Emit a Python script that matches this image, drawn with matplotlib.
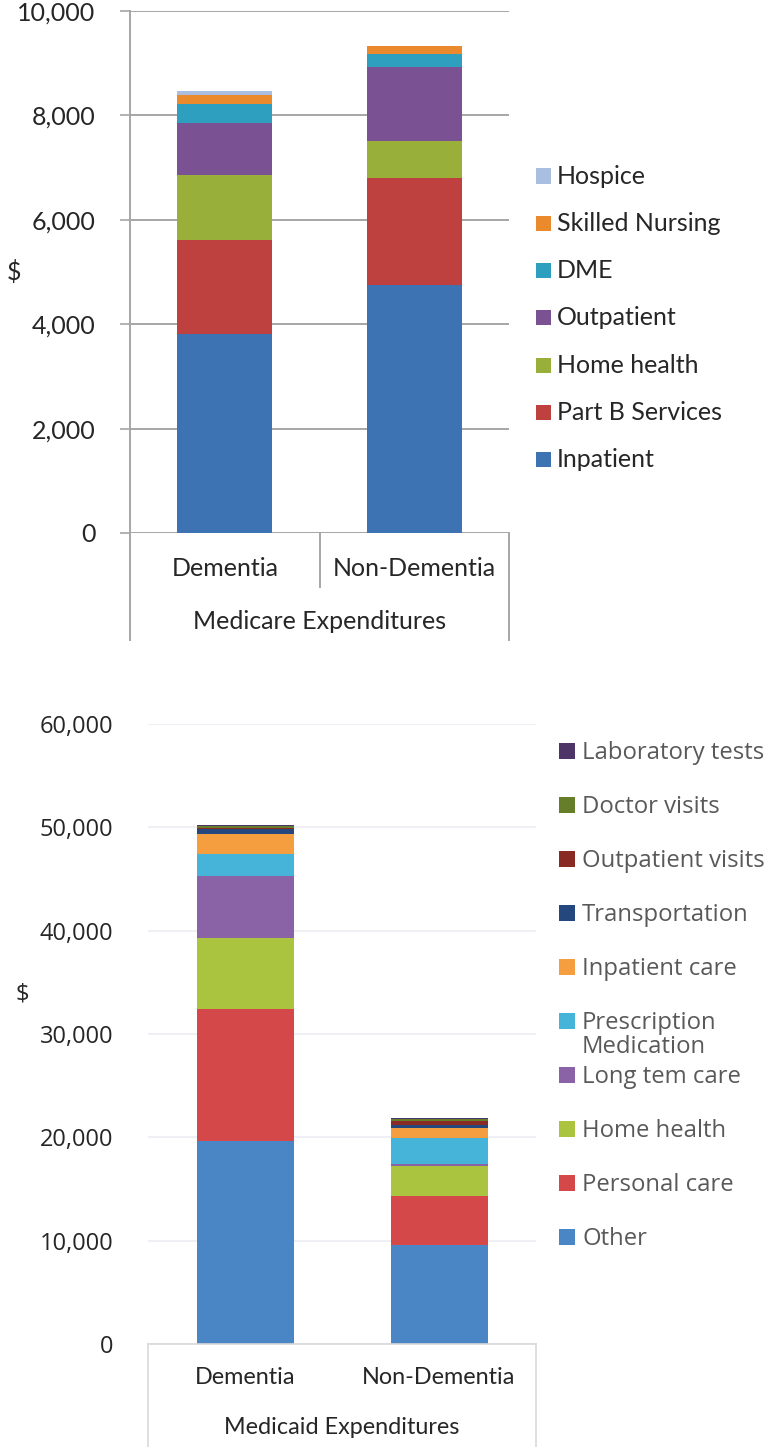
import matplotlib
matplotlib.use('Agg')
import matplotlib.pyplot as plt
from matplotlib.patches import Rectangle
from matplotlib.lines import Line2D
from matplotlib.transforms import blended_transform_factory
import numpy as np

# ---------------- data ----------------
groups = ['Dementia', 'Non-Dementia']

medicare_categories = ['Inpatient', 'Part B Services', 'Home health', 'Outpatient',
                       'DME', 'Skilled Nursing', 'Hospice']
medicare_dementia = [3810, 1795, 1245, 1005, 365, 172, 83]
medicare_nondementia = [4745, 2065, 700, 1425, 244, 159, 0]
medicare_title = 'Medicare Expenditures'
medicare_ticks = [0, 2000, 4000, 6000, 8000, 10000]

medicaid_categories = ['Other', 'Personal care', 'Home health', 'Long tem care',
                       'Prescription\nMedication', 'Inpatient care', 'Transportation',
                       'Outpatient visits', 'Doctor visits', 'Laboratory tests']
medicaid_dementia = [19690, 12710, 6845, 6030, 2130, 1965, 430, 170, 170, 100]
medicaid_nondementia = [9620, 4745, 2865, 165, 2585, 930, 320, 390, 190, 60]
medicaid_title = 'Medicaid Expenditures'
medicaid_ticks = [0, 10000, 20000, 30000, 40000, 50000, 60000]

# ---------------- styles ----------------
medicare_colors = ['#3D72B3', '#BE4140', '#98B03A', '#7A5294', '#2F9FBF', '#EB8A2C', '#A9BEE0']
medicaid_colors = ['#4A86C5', '#D5484A', '#ABC43F', '#8963A6', '#45B4D8', '#F59E40',
                   '#24477D', '#8A2A25', '#667E2A', '#4D3568']

FONT = 'Lato'
FONT2 = 'Open Sans'
plt.rcParams['font.family'] = [FONT, 'DejaVu Sans']

W, H = 772, 1447
fig = plt.figure(figsize=(W / 100, H / 100), dpi=100)


def fx(px):
    return px / W


def fy(py):
    return 1 - py / H


def fig_legend(labels, colors, x0, y_centers, size, text_x, fontsize, color,
               text_offsets=None, family=None, text_dy=0):
    for i, (lab, col, yc) in enumerate(zip(labels, colors, y_centers)):
        r = Rectangle((fx(x0), fy(yc + size / 2)), size / W, size / H,
                      transform=fig.transFigure, facecolor=col, edgecolor='none')
        fig.add_artist(r)
        off = 0 if text_offsets is None else text_offsets[i]
        kw = {} if family is None else {'family': family}
        fig.text(fx(text_x), fy(yc + off + text_dy), lab, ha='left', va='center',
                 fontsize=fontsize, color=color, linespacing=1.05, **kw)


TOPFS = 18
# ================= top chart (Medicare) =================
top_left, top_right, top_y0, top_y1 = 130, 509, 533, 11
ax1 = fig.add_axes([fx(top_left), fy(top_y0), fx(top_right - top_left), (top_y0 - top_y1) / H])
x = np.arange(len(groups))
bottoms = np.zeros(len(groups))
for cat, col, d, n in zip(medicare_categories, medicare_colors, medicare_dementia, medicare_nondementia):
    vals = np.array([d, n], dtype=float)
    ax1.bar(x, vals, width=0.5, bottom=bottoms, color=col, label=cat, zorder=3)
    bottoms += vals
ax1.set_xlim(-0.5, 1.5)
ax1.set_ylim(0, 10000)
ax1.set_yticks(medicare_ticks)
ax1.set_yticklabels([f'{t:,}' for t in medicare_ticks])
ax1.set_xticks([])
for s in ['top', 'right', 'bottom', 'left']:
    ax1.spines[s].set_visible(False)
gcol = '#A6A6A6'
ax1.yaxis.grid(True, color=gcol, linewidth=1.4, zorder=0)
ax1.set_axisbelow(True)
ax1.tick_params(axis='y', length=7, width=1.2, color=gcol, pad=18, labelsize=TOPFS, labelcolor='#262626')
# axis & category box lines
ext = (top_y0 - 640) / (top_y0 - top_y1)
mid = (top_y0 - 587) / (top_y0 - top_y1)
ax1.add_line(Line2D([0, 0], [1, ext], transform=ax1.transAxes, color=gcol, lw=1.4, clip_on=False))
ax1.add_line(Line2D([1, 1], [0, ext], transform=ax1.transAxes, color=gcol, lw=1.4, clip_on=False))
ax1.add_line(Line2D([0.5, 0.5], [0, mid], transform=ax1.transAxes, color=gcol, lw=1.4, clip_on=False))
tr1 = blended_transform_factory(ax1.transData, ax1.transAxes)
for i, g in enumerate(groups):
    ax1.text(i, (top_y0 - 569) / (top_y0 - top_y1), g, transform=tr1, ha='center', va='center',
             fontsize=TOPFS, color='#262626')
ax1.text(0.5, (top_y0 - 622) / (top_y0 - top_y1), medicare_title, transform=ax1.transAxes,
         ha='center', va='center', fontsize=TOPFS, color='#262626')
fig.text(fx(14), fy(272), '$', ha='center', va='center', fontsize=TOPFS, color='#262626')

fig_legend(medicare_categories[::-1], medicare_colors[::-1],
           536, [176 + 47.33 * i for i in range(7)], 15, 557, TOPFS, '#262626')

# ================= bottom chart (Medicaid) =================
b_left, b_right, b_y0, b_y1 = 148, 536, 1344, 724
ax2 = fig.add_axes([fx(b_left), fy(b_y0), fx(b_right - b_left), (b_y0 - b_y1) / H])
bottoms = np.zeros(len(groups))
for cat, col, d, n in zip(medicaid_categories, medicaid_colors, medicaid_dementia, medicaid_nondementia):
    vals = np.array([d, n], dtype=float)
    ax2.bar(x, vals, width=0.5, bottom=bottoms, color=col, label=cat, zorder=3)
    bottoms += vals
ax2.set_xlim(-0.5, 1.5)
ax2.set_ylim(0, 60000)
ax2.set_yticks(medicaid_ticks)
ax2.set_yticklabels([f'{t:,}' for t in medicaid_ticks], family=[FONT2, 'DejaVu Sans'])
ax2.set_xticks([])
for s in ['top', 'right', 'bottom', 'left']:
    ax2.spines[s].set_visible(False)
ax2.yaxis.grid(True, color='#EEF0F5', linewidth=1.5, zorder=0)
ax2.set_axisbelow(True)
ax2.tick_params(axis='y', length=0, pad=25, labelsize=17, labelcolor='#262626')
bcol = '#D9D9D9'
bext = -(H - b_y0) / (b_y0 - b_y1)
ax2.add_line(Line2D([0, 1], [0, 0], transform=ax2.transAxes, color=bcol, lw=1.2, clip_on=False, zorder=4))
ax2.add_line(Line2D([0, 0], [0, bext], transform=ax2.transAxes, color=bcol, lw=1.2, clip_on=False))
ax2.add_line(Line2D([1, 1], [0, bext], transform=ax2.transAxes, color=bcol, lw=1.2, clip_on=False))
tr2 = blended_transform_factory(ax2.transData, ax2.transAxes)
BFS = 16.8
for i, g in enumerate(groups):
    ax2.text(i, (b_y0 - 1377) / (b_y0 - b_y1), g, transform=tr2, ha='center', va='center',
             fontsize=BFS, color='#262626')
ax2.text(0.5, (b_y0 - 1427) / (b_y0 - b_y1), medicaid_title, transform=ax2.transAxes,
         ha='center', va='center', fontsize=BFS, color='#262626')
fig.text(fx(22), fy(995), '$', ha='center', va='center', fontsize=17, color='#262626',
         family=[FONT2, 'DejaVu Sans'])

leg_labels = medicaid_categories[::-1]
offsets = [12 if '\n' in l else 0 for l in leg_labels]
fig_legend(leg_labels, medicaid_colors[::-1],
           559, [751 + 54 * i for i in range(10)], 15.5, 582, 17.2, '#595959', offsets,
           family=[FONT2, 'DejaVu Sans'], text_dy=2)

fig.savefig('out.png', dpi=100)
